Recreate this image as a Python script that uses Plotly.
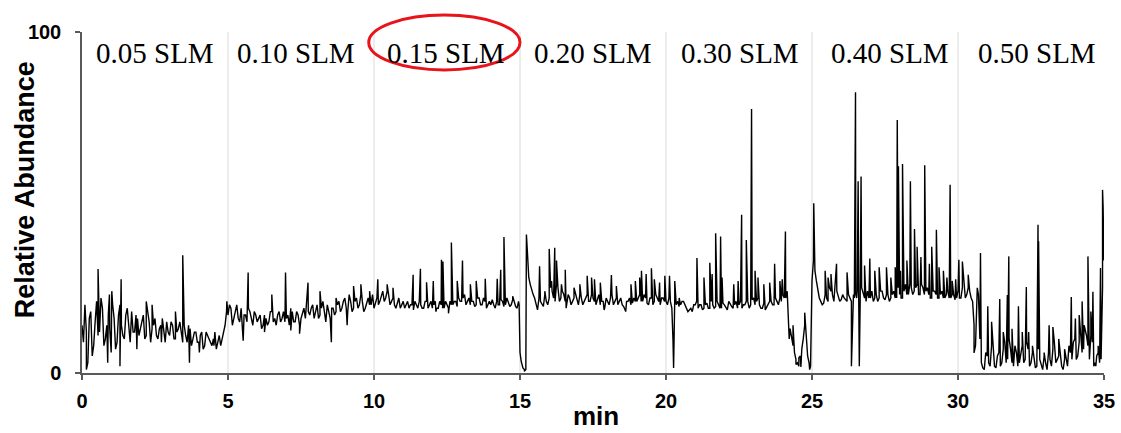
import numpy as np
import plotly.graph_objects as go

# ---------------- data ----------------
# Baseline values every 0.1 min within each flow-rate segment (t = start + 0.1*i)
seg_005 = [14, 20, 3, 18, 8, 21, 12, 19, 10, 17,
           6, 16, 9, 20, 11, 17, 14, 18, 12, 16,
           13, 17, 11, 15, 13, 16, 10, 14, 12, 15,
           11, 14, 10, 13, 12, 14, 9, 13, 10, 12,
           9, 12, 8, 11, 9, 10, 7, 11, 10, 14]
seg_010 = [17, 19, 16, 20, 15, 13, 17, 19, 16, 18,
           15, 17, 14, 16, 15, 18, 16, 17, 15, 18,
           16, 14, 18, 15, 17, 16, 19, 21, 17, 20,
           18, 16, 19, 17, 20, 16, 19, 18, 21, 19,
           22, 18, 21, 19, 22, 20, 21, 19, 22, 20]
seg_015 = [19, 22, 21, 24, 22, 23, 21, 20, 21, 19,
           21, 20, 19, 20, 21, 19, 20, 19, 21, 20,
           19, 21, 19, 20, 19, 20, 21, 20, 21, 22,
           21, 23, 21, 20, 21, 20, 22, 20, 21, 20,
           20, 20, 21, 20, 21, 20, 21, 20, 21, 19]
seg_020 = [6, 1.5, 1, 28, 24, 22, 18.5, 21, 19.5, 21,
           22, 24, 21, 25, 22, 23, 20, 22, 21, 23,
           20, 22, 21, 23, 21, 22, 20, 23, 21, 19,
           21, 22, 20, 22, 21, 20, 18.5, 21, 20, 22,
           21, 23, 21, 22, 20, 22, 21, 22, 20, 22]
seg_030 = [21, 22, 19, 22, 21, 20, 21, 19.5, 18.5, 18,
           20, 19, 20, 19, 20.5, 19, 20, 19.5, 20, 19,
           20, 18.5, 20, 19, 21, 20, 19, 20, 21, 20,
           22, 21, 20, 19, 18.5, 20, 21, 20, 21, 22,
           23, 22, 15, 11, 6, 3, 5, 10, 12, 3]
seg_040 = [27, 30, 24, 21, 20.5, 22, 25, 23, 26, 22,
           21.5, 22, 21, 22, 21, 23, 22, 25, 22, 24,
           22, 21, 23, 22, 24, 21.5, 23, 22, 24, 22,
           23, 22, 26, 23, 25, 24, 26, 23, 25, 24,
           23, 22, 24, 22, 23, 22, 23, 22, 23, 21.5]
seg_050 = [24, 22, 26, 23, 24, 21, 8, 23, 3, 1,
           5, 2, 7, 1.5, 6, 3, 9, 4, 7, 2,
           6, 3, 8, 4, 7, 3, 5, 2, 4, 1,
           3, 6, 2, 9, 4, 6, 1, 5, 8, 4,
           10, 5, 12, 7, 11, 4, 9, 3, 6, 4, 33]

# In-between readings (t = start + 0.05 + 0.1*i)
mid_005 = [9, 12, 16, 5, 15, 11, 22, 8, 14, 13, 20, 7, 17, 14, 10, 19, 9, 12, 17, 11,
           15, 10, 18, 9, 14, 11, 13, 16, 9, 12, 15, 10, 12, 15, 9, 11, 14, 8, 12, 9,
           11, 7, 12, 10, 8, 12, 9, 8, 12, 18]
mid_010 = [20, 14, 18, 16, 19, 17, 15, 18, 14, 17, 16, 13, 17, 14, 18, 15, 14, 18, 16, 15,
           17, 19, 15, 18, 14, 18, 16, 18, 19, 16, 20, 17, 21, 15, 18, 19, 17, 20, 18, 21,
           19, 23, 18, 21, 19, 23, 18, 21, 20, 23]
mid_015 = [21, 20, 23, 21, 24, 20, 22, 19, 22, 20, 19, 21, 20, 18.5, 20, 21, 19, 21, 19, 21,
           20, 19, 21, 19, 21, 19, 20, 21, 19.5, 21, 22, 20, 22, 21, 19.5, 22, 20, 22, 19, 21,
           21.5, 19, 20, 21.5, 19.5, 22, 19.5, 21.5, 19.5, 21]
mid_020 = [3, 1, 36, 26, 23, 20, 22, 20, 23, 20, 25, 22, 26, 21, 24, 21, 23, 20, 22, 21,
           23, 20, 22, 21, 23, 21, 22, 20, 21, 22, 20, 23, 21, 20, 22, 19.5, 21, 22, 20.5, 21,
           22, 21, 23, 20.5, 22, 20, 23, 21, 22, 21]
mid_030 = [20, 21, 4, 20, 19.5, 21, 20, 18, 19, 20, 21, 20, 18.5, 20, 19, 21, 19, 21, 19, 20.5,
           19, 21, 19.5, 20, 19, 21, 20, 21, 19, 21.5, 20, 22, 19, 20.5, 19.5, 21, 20, 22, 20, 21,
           22, 24, 13, 8, 4, 2, 7, 14, 5, 2]
mid_040 = [33, 27, 22, 20, 23, 21, 24, 21, 24, 21, 23, 21.5, 23, 21, 22, 24, 21, 23, 21, 22,
           24, 22, 21, 24, 22, 23, 21, 23, 22, 25, 22, 24, 23, 26, 23, 25, 23, 26, 23, 25,
           22, 24, 23, 22, 24, 22, 24, 22, 23, 22]
mid_050 = [22, 25, 22, 25, 22, 14, 18, 10, 1.5, 6, 3, 8, 2, 5, 2, 7, 3, 10, 3, 8,
           2, 6, 3, 9, 2, 6, 1.5, 7, 2, 5, 1, 4, 7, 3, 5, 2, 4, 2, 6, 9,
           4, 9, 6, 13, 8, 11, 2, 5, 3, 25]

# Spikes and dips (time in min, relative abundance)
spk_005_t = [0.15, 0.55, 0.88, 0.94, 1.02, 1.30, 1.34, 1.88, 2.20, 2.40, 2.72, 3.20, 3.45, 3.68, 4.02, 4.52, 4.96]
spk_005_v = [1, 30.5, 3, 23, 24, 2, 27.5, 7, 21, 20, 9, 18, 34.5, 3, 6, 8, 21]
spk_010_t = [5.52, 5.69, 6.25, 6.50, 6.97, 7.15, 7.45, 7.74, 8.15, 8.54, 8.70, 9.08, 9.30, 9.55, 9.85]
spk_010_v = [9.5, 29.5, 12, 23, 29.5, 12.5, 11.5, 26.5, 24, 9, 22, 14, 25.5, 26, 24]
spk_015_t = [10.13, 10.45, 10.65, 11.34, 11.59, 11.80, 12.03, 12.12, 12.31, 12.36, 12.55,
             12.65, 12.85, 13.03, 13.30, 13.50, 13.81, 14.22, 14.34, 14.45, 14.75, 14.97]
spk_015_v = [27.5, 26, 25, 28.8, 30.6, 26.6, 27, 18, 33.2, 32.7, 17.5,
             38.3, 27, 33, 26, 27, 27.6, 27.6, 30.3, 39.9, 22.5, 20]
spk_020_t = [15.04, 15.15, 15.22, 15.26, 15.67, 15.85, 16.00, 16.08, 16.19, 16.25, 16.42, 16.55,
             16.58, 16.85, 17.05, 17.30, 17.45, 17.55, 17.75, 17.88, 18.13, 18.30, 18.62, 18.80,
             18.95, 19.10, 19.16, 19.32, 19.50, 19.60, 19.78, 19.96]
spk_020_v = [3.5, 0.5, 40.6, 34, 31.3, 24, 36.4, 27, 36.7, 33, 26, 30.3,
             19, 25, 26, 28.5, 28, 27.5, 26.5, 18.5, 28.7, 25.5, 18, 26,
             27, 28, 30, 29, 30.7, 27.5, 26.5, 28.5]
spk_030_t = [20.12, 20.24, 20.26, 20.30, 20.45, 21.06, 21.30, 21.50, 21.58, 21.70, 21.87, 21.92,
             22.32, 22.47, 22.59, 22.75, 22.93, 23.05, 23.15, 23.35, 23.55, 23.72, 23.90, 23.98,
             24.09, 24.22, 24.35, 24.45, 24.55, 24.62, 24.75, 24.82, 24.92, 24.98]
spk_030_v = [28.5, 9.5, 1.5, 27, 22, 33.7, 28, 32.3, 29, 41, 40, 28,
             26, 27, 46.4, 39, 77.4, 30, 28, 26, 26.5, 32, 27, 27.5,
             41.5, 10, 14, 2.5, 4.5, 1.8, 17.7, 8, 1, 26.6]
spk_040_t = [25.02, 25.06, 25.45, 25.55, 25.65, 25.84, 26.20, 26.35, 26.42, 26.49, 26.53, 26.58,
             26.62, 26.68, 26.80, 26.98, 27.15, 27.30, 27.55, 27.70, 27.85, 27.92, 27.96, 28.03,
             28.10, 28.25, 28.37, 28.51, 28.60, 28.73, 28.86, 29.02, 29.10, 29.26, 29.35, 29.50,
             29.62, 29.73, 29.80, 29.92]
spk_040_v = [29.4, 49.8, 30, 28, 29, 32, 29.5, 2, 23, 82.3, 22, 56.2,
             2, 57.6, 31.5, 33.6, 30, 31, 31, 28, 31, 74.2, 60.6, 30,
             61.3, 33, 56.2, 42.2, 37, 34, 60.9, 32, 37, 42, 31, 30,
             28, 55.2, 27, 27.5]
spk_050_t = [30.03, 30.15, 30.35, 30.55, 30.66, 30.77, 31.02, 31.15, 31.43, 31.55, 31.69, 31.74,
             31.85, 32.07, 32.20, 32.34, 32.42, 32.55, 32.74, 32.76, 32.95, 33.12, 33.25, 33.45,
             33.65, 33.88, 34.02, 34.15, 34.25, 34.32, 34.45, 34.55, 34.62, 34.72, 34.80, 34.88,
             34.95, 34.97]
spk_050_v = [33.2, 32.7, 28.8, 5.9, 25, 35.2, 19.6, 15, 21.7, 12, 22.9, 34.2,
             13, 19.6, 12, 25.2, 12, 8, 43.5, 38.6, 6, 14, 13.5, 10,
             7, 22.3, 16, 17, 21, 14, 34.2, 18, 23.8, 2, 8, 30.8,
             53.7, 48.5]

seg_starts = [0, 5, 10, 15, 20, 25, 30]
flow_labels = ["0.05 SLM", "0.10 SLM", "0.15 SLM", "0.20 SLM", "0.30 SLM", "0.40 SLM", "0.50 SLM"]
label_x = [2.49, 7.32, 12.47, 17.5, 22.52, 27.66, 32.7]
grid_x = [5, 10, 15, 20, 25, 30]
x_ticks = [0, 5, 10, 15, 20, 25, 30, 35]
y_ticks = [0, 100]

# ---------------- assemble series ----------------
segs = [seg_005, seg_010, seg_015, seg_020, seg_030, seg_040, seg_050]
mids = [mid_005, mid_010, mid_015, mid_020, mid_030, mid_040, mid_050]
spk_t = [spk_005_t, spk_010_t, spk_015_t, spk_020_t, spk_030_t, spk_040_t, spk_050_t]
spk_v = [spk_005_v, spk_010_v, spk_015_v, spk_020_v, spk_030_v, spk_040_v, spk_050_v]
ts, vs = [], []
for s0, seg, mid, st, sv in zip(seg_starts, segs, mids, spk_t, spk_v):
    ts += [round(s0 + 0.1 * i, 3) for i in range(len(seg))]
    vs += list(seg)
    ts += [round(s0 + 0.05 + 0.1 * i, 3) for i in range(len(mid))]
    vs += list(mid)
    ts += st
    vs += sv
order = np.argsort(ts, kind="stable")
t = np.array(ts)[order]
v = np.array(vs)[order]

# ---------------- layout geometry (pixels) ----------------
W, H = 1121, 433
ML, MR, MT, MB = 82, 17, 32, 59.5
plot_w = W - ML - MR
plot_h = H - MT - MB

fig = go.Figure()
fig.add_trace(go.Scatter(x=t, y=v, mode="lines",
                         line=dict(color="black", width=1.4), hoverinfo="skip",
                         showlegend=False))

shapes = []
for gx in grid_x:
    shapes.append(dict(type="line", xref="x", yref="paper", x0=gx, x1=gx, y0=0, y1=1,
                       line=dict(color="#d9d9d9", width=1), layer="below"))
# red ellipse around 0.15 SLM
shapes.append(dict(type="circle", xref="x", yref="paper",
                   x0=9.82, x1=15.0, y0=(373.5 - 70) / plot_h, y1=(373.5 - 15) / plot_h,
                   line=dict(color="#e8131b", width=3)))

annotations = []
for lx, lab in zip(label_x, flow_labels):
    annotations.append(dict(x=lx, y=93.8, xref="x", yref="y", text=lab, showarrow=False,
                            font=dict(family="Liberation Serif, Times New Roman, serif",
                                      size=29, color="black"),
                            xanchor="center", yanchor="middle"))
annotations.append(dict(x=(25 - ML) / plot_w, y=(373.5 - 190.5) / plot_h,
                        xref="paper", yref="paper", text="<b>Relative Abundance</b>",
                        showarrow=False, textangle=-90,
                        font=dict(family="Arial, Liberation Sans, sans-serif", size=27, color="black"),
                        xanchor="center", yanchor="middle"))
annotations.append(dict(x=17.6, y=(373.5 - 433) / plot_h, xref="x", yref="paper",
                        text="<b>min</b>", showarrow=False, borderpad=0,
                        font=dict(family="Arial, Liberation Sans, sans-serif", size=26, color="black"),
                        xanchor="center", yanchor="bottom"))

fig.update_layout(
    width=W, height=H,
    margin=dict(l=ML, r=MR, t=MT, b=MB, autoexpand=False),
    plot_bgcolor="white", paper_bgcolor="white",
    shapes=shapes,
    annotations=annotations,
    xaxis=dict(range=[0, 35], tickvals=x_ticks, ticks="outside", ticklen=5, tickwidth=1.5,
               tickcolor="#595959", showline=True, linecolor="#595959", linewidth=2,
               showgrid=False, zeroline=False, automargin=False, ticklabelstandoff=4,
               tickfont=dict(family="Arial, Liberation Sans, sans-serif", size=20, color="black", weight="bold")),
    yaxis=dict(range=[0, 100], tickvals=y_ticks, ticks="outside", ticklen=5, tickwidth=1.5,
               tickcolor="#595959", showline=True, linecolor="#595959", linewidth=1.5,
               showgrid=False, zeroline=False, automargin=False, ticklabelstandoff=10,
               tickfont=dict(family="Arial, Liberation Sans, sans-serif", size=20, color="black", weight="bold")),
)

fig.write_html("out.html")
